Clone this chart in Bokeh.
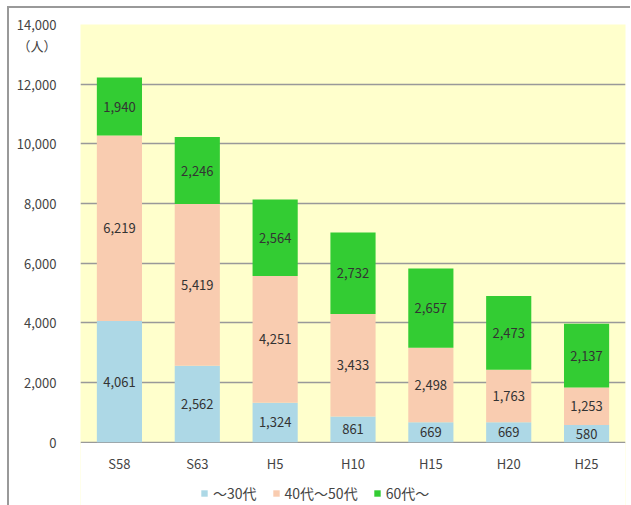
from bokeh.plotting import figure
from bokeh.models import (ColumnDataSource, LabelSet, NumeralTickFormatter, Legend, LegendItem,
                          FixedTicker, BoxAnnotation)
from bokeh.embed import file_html
from bokeh.resources import INLINE
from bokeh.core.properties import value

years = ["S58", "S63", "H5", "H10", "H15", "H20", "H25"]
u30 = [4061, 2562, 1324, 861, 669, 669, 580]
a4050 = [6219, 5419, 4251, 3433, 2498, 1763, 1253]
o60 = [1940, 2246, 2564, 2732, 2657, 2473, 2137]
series_names = ["～30代", "40代～50代", "60代～"]
y_ticks = [0, 2000, 4000, 6000, 8000, 10000, 12000, 14000]
unit_label = "（人）"
colors = ["#ADD8E6", "#F9CCB0", "#33CC33"]
FONT = "Noto Sans CJK JP"

Y_MAX = 14000
PX_PER_UNIT = 416 / Y_MAX          # frame scale (416 px for 0..14000)
Y_MIN = -65 / PX_PER_UNIT          # extra room below 0 for category labels and legend

src = ColumnDataSource(dict(years=years, u30=u30, a4050=a4050, o60=o60))

p = figure(x_range=years, y_range=(Y_MIN, Y_MAX), width=623, height=499,
           output_backend="svg", toolbar_location=None,
           min_border_left=71, min_border_right=7, min_border_top=16, min_border_bottom=0,
           background_fill_color="#FFFFCC", border_fill_color="white",
           outline_line_color=None,
           styles={"margin-left": "7px", "margin-top": "6px", "box-sizing": "border-box",
                   "border-left": "2px solid #999999", "border-top": "2px solid #999999"})

# white area below the zero line (outside the chart's plotting area)
cover = BoxAnnotation(top=-25, fill_color="white", fill_alpha=1, line_color=None, level="underlay")
p.add_layout(cover)

rs = p.vbar_stack(["u30", "a4050", "o60"], x="years", width=0.58, source=src,
                  color=colors, line_color=None)

# value labels
cum = [0] * len(years)
for col, vals in (("u30", u30), ("a4050", a4050), ("o60", o60)):
    mids = [c + v / 2 for c, v in zip(cum, vals)]
    txt = [f"{v:,}" for v in vals]
    cum = [c + v for c, v in zip(cum, vals)]
    ls = LabelSet(x="x", y="y", text="t",
                  source=ColumnDataSource(dict(x=years, y=mids, t=txt)),
                  text_align="center", text_baseline="middle",
                  text_font=value(FONT), text_font_size="13px", text_color="#333333")
    p.add_layout(ls)

# category labels
p.add_layout(LabelSet(x="x", y="y", text="t",
                      source=ColumnDataSource(dict(x=years, y=[-21 / PX_PER_UNIT] * len(years), t=years)),
                      text_align="center", text_baseline="middle",
                      text_font=value(FONT), text_font_size="13px", text_color="#444444"))
p.xaxis.visible = False

p.yaxis.ticker = FixedTicker(ticks=y_ticks + [13300])
p.yaxis.formatter = NumeralTickFormatter(format="0,0")
p.yaxis.major_label_overrides = {13300: unit_label}
p.ygrid.ticker = FixedTicker(ticks=y_ticks)
p.yaxis.axis_line_color = None
p.yaxis.major_tick_line_color = None
p.yaxis.minor_tick_line_color = None
p.yaxis.major_label_text_font = FONT
p.yaxis.major_label_text_font_size = "13px"
p.yaxis.major_label_text_color = "#444444"
p.yaxis.major_label_standoff = 18

p.xgrid.grid_line_color = None
p.ygrid.grid_line_color = "#999999"
p.ygrid.grid_line_width = 1.5

legend = Legend(items=[LegendItem(label=n, renderers=[r]) for n, r in zip(series_names, rs)],
                orientation="horizontal", location=(120, 4),
                background_fill_alpha=0, border_line_color=None,
                padding=0, margin=0, spacing=15,
                glyph_width=8, glyph_height=8, label_standoff=5, label_height=20,
                label_text_font=FONT, label_text_font_size="14px", label_text_color="#444444")
p.add_layout(legend, "center")

open("out.html", "w").write(file_html(p, INLINE))
